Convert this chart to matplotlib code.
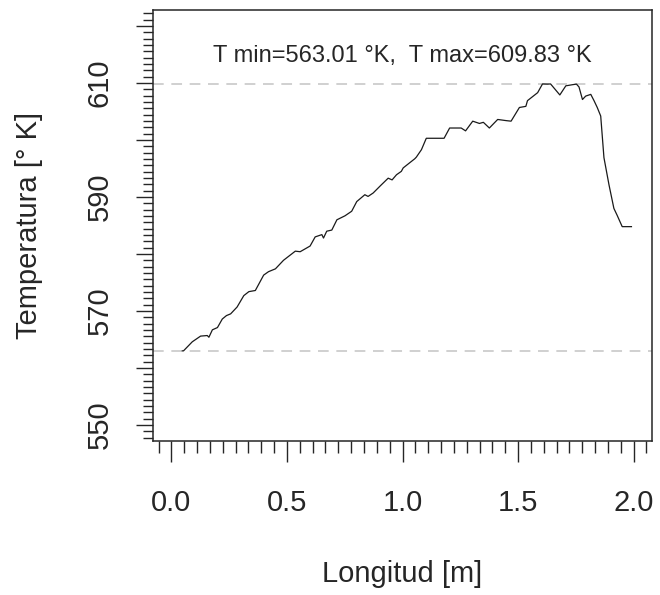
import numpy as np
import matplotlib
matplotlib.use("Agg")
import matplotlib.pyplot as plt
from matplotlib.ticker import FixedLocator, MultipleLocator, FuncFormatter

plt.rcParams['font.family'] = ['Liberation Sans', 'DejaVu Sans']

# temperature profile along the reactor
longitud = [0.047, 0.052, 0.090, 0.126, 0.155, 0.162, 0.177, 0.199, 0.220, 0.238,
            0.256, 0.284, 0.313, 0.335, 0.363, 0.399, 0.420, 0.450, 0.485, 0.536,
            0.557, 0.600, 0.622, 0.651, 0.658, 0.672, 0.694, 0.716, 0.751, 0.780,
            0.802, 0.837, 0.851, 0.873, 0.905, 0.938, 0.955, 0.974, 0.995, 1.003,
            1.031, 1.053, 1.060, 1.082, 1.103, 1.180, 1.204, 1.254, 1.273, 1.304,
            1.333, 1.350, 1.376, 1.412, 1.448, 1.470, 1.506, 1.534, 1.541, 1.585,
            1.606, 1.627, 1.641, 1.681, 1.707, 1.736, 1.753, 1.764, 1.779, 1.793,
            1.815, 1.829, 1.843, 1.858, 1.872, 1.894, 1.915, 1.929, 1.951, 1.991]
temperatura = [563.01, 563.01, 564.6, 565.6, 565.7, 565.4, 566.7, 567.1, 568.6, 569.2,
               569.5, 570.7, 572.7, 573.4, 573.6, 576.3, 576.9, 577.4, 578.9, 580.5,
               580.4, 581.4, 583.0, 583.4, 582.8, 584.0, 584.2, 586.0, 586.7, 587.5,
               589.2, 590.4, 590.1, 590.7, 592.0, 593.3, 593.0, 593.9, 594.5, 595.1,
               596.0, 596.7, 597.0, 598.3, 600.3, 600.3, 602.1, 602.1, 601.6, 603.3,
               602.9, 603.1, 602.1, 603.6, 603.4, 603.3, 605.7, 605.9, 606.9, 608.3,
               609.83, 609.8, 609.83, 607.9, 609.5, 609.7, 609.8, 609.3, 607.1, 607.7,
               608.0, 606.9, 605.7, 604.2, 596.9, 592.1, 588.0, 586.8, 584.8, 584.8]

t_min = 563.01
t_max = 609.83
x_major = [0.0, 0.5, 1.0, 1.5, 2.0]
y_major = [550, 560, 570, 580, 590, 600, 610, 620]
y_labeled = [550, 570, 590, 610]

dark = '#262626'

fig = plt.figure(figsize=(6.6, 5.95), dpi=100)
ax = fig.add_axes([153 / 660, 1 - 441 / 595, 499 / 660, 431 / 595])

ax.axhline(t_min, color='#c4c4c4', lw=1.1, dashes=(7, 5))
ax.axhline(t_max, color='#c4c4c4', lw=1.1, dashes=(7, 5))
ax.plot(longitud, temperatura, color='#1a1a1a', lw=0.9)

ax.text(1.0, 613.6, f'T min={t_min:.2f} °K,  T max={t_max:.2f} °K',
        ha='center', va='baseline', fontsize=17, color=dark)

ax.set_xlim(-0.08, 2.08)
ax.set_ylim(547.2, 622.8)

ax.xaxis.set_major_locator(FixedLocator(x_major))
ax.xaxis.set_major_formatter(FuncFormatter(lambda v, p: f'{v:.1f}'))
ax.xaxis.set_minor_locator(MultipleLocator(0.5 / 9))
ax.yaxis.set_major_locator(FixedLocator(y_major))
ax.yaxis.set_major_formatter(FuncFormatter(
    lambda v, p: f'{v:.0f}' if round(v) in y_labeled else ''))
ax.yaxis.set_minor_locator(MultipleLocator(10 / 9))

ax.tick_params(axis='x', which='major', length=14.9, width=1.0, pad=20,
               labelsize=21, colors=dark)
ax.tick_params(axis='x', which='minor', length=8.6, width=1.0, colors=dark)
ax.tick_params(axis='y', which='major', length=12.2, width=1.0, pad=16,
               labelsize=21, colors=dark)
ax.tick_params(axis='y', which='minor', length=7.2, width=1.0, colors=dark)
for lab in ax.get_yticklabels():
    lab.set_rotation(90)
    lab.set_va('center')

for s in ax.spines.values():
    s.set_color(dark)
    s.set_linewidth(1.1)

ax.set_xlabel('Longitud [m]', fontsize=21, color=dark)
ax.set_ylabel('Temperatura [° K]', fontsize=21, color=dark)
ax.xaxis.set_label_coords(0.5, (441 - 560) / 431)
ax.yaxis.set_label_coords((43 - 153) / 499, 0.5)

fig.savefig('out.png', dpi=100)
